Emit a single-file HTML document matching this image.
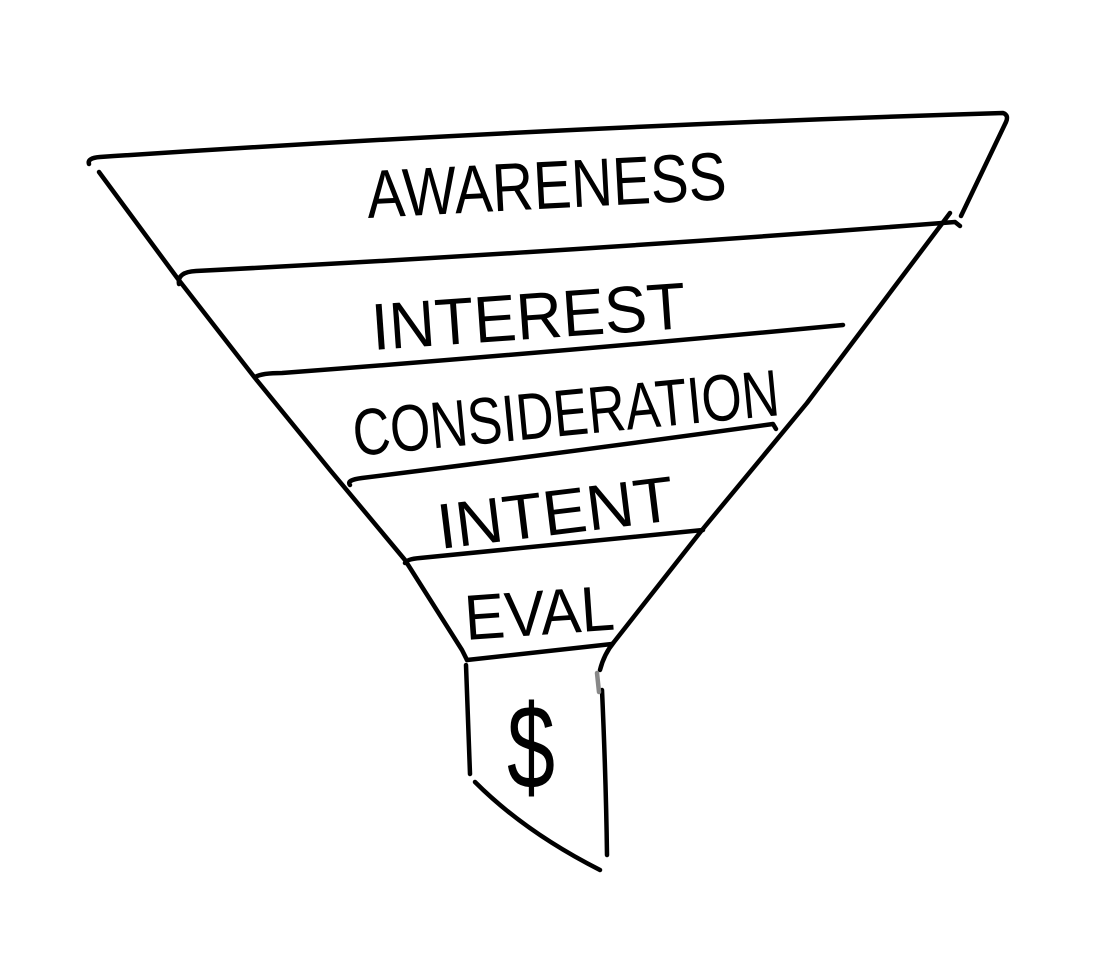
<!DOCTYPE html>
<html>
<head>
<meta charset="utf-8">
<style>
  html, body { margin: 0; padding: 0; background: #fff; }
  body { width: 1093px; height: 977px; overflow: hidden; }
  svg { display: block; }
  text { font-family: "Liberation Sans", "DejaVu Sans", sans-serif; fill: #000; }
</style>
</head>
<body>
<svg width="1093" height="977" viewBox="0 0 1093 977" xmlns="http://www.w3.org/2000/svg">
  <g fill="none" stroke="#000" stroke-width="4.5" stroke-linecap="round" stroke-linejoin="round">
    <!-- top rim -->
    <path d="M89,164 Q87,158 100,157 Q550,127 1003,113 Q1009,115 1006,122 L961,216"/>
    <!-- left side -->
    <path d="M99,172 L178,279 L255,378 L330,470 L405,560 L462,650 L467,660"/>
    <!-- right side -->
    <path d="M600,670 Q604,654 614,642 L702,530 L807,403 L950,213"/>
    <!-- band lines -->
    <path d="M179,284 Q177,272 196,271 Q570,252 955,222 L960,226"/>
    <path d="M255,377 Q262,373 282,373 Q560,352 843,325"/>
    <path d="M350,485 Q346,480 362,478 Q570,452 773,424 L776,429"/>
    <path d="M405,563 Q407,559 420,558 L703,530"/>
    <path d="M467,660 L612,644"/>
    <!-- spout -->
    <path d="M466,665 Q468,720 470,774"/>
    <path d="M475,782 Q525,832 600,870"/>
    <path d="M602,690 Q606,780 607,855"/>
  </g>
  <path d="M597,673 L599,692" stroke="#888" stroke-width="4.5" stroke-linecap="round" fill="none"/>

  <text x="368" y="218" font-size="68" textLength="360" lengthAdjust="spacingAndGlyphs" transform="rotate(-3 368 218)">AWARENESS</text>
  <text x="373" y="350" font-size="66" textLength="315" lengthAdjust="spacingAndGlyphs" transform="rotate(-4 373 350)">INTEREST</text>
  <text x="355" y="456" font-size="66" textLength="428" lengthAdjust="spacingAndGlyphs" transform="rotate(-5.5 355 456)">CONSIDERATION</text>
  <text x="440" y="549" font-size="64" textLength="238" lengthAdjust="spacingAndGlyphs" transform="rotate(-7 440 549)">INTENT</text>
  <text x="466" y="640" font-size="64" textLength="150" lengthAdjust="spacingAndGlyphs" transform="rotate(-4 466 640)">EVAL</text>
  <text x="507" y="788" font-size="120" textLength="48" lengthAdjust="spacingAndGlyphs">$</text>
</svg>
</body>
</html>
